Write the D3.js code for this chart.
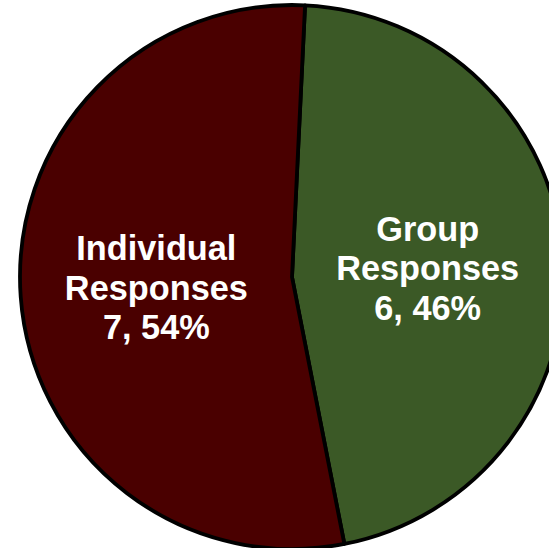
<!DOCTYPE html>
<html lang="en">
<head>
  <meta charset="utf-8">
  <script src="https://d3js.org/d3.v7.min.js"></script>
  <title>Responses</title>
  <style>
    body { margin: 0; background: #fff; }
    .slice { stroke: #000; stroke-width: 3.8px; stroke-linejoin: round; }
    .lbl {
        font-family: "Liberation Sans", Arial, sans-serif;
        font-weight: bold;
        font-size: 34.3px;
        fill: #fff;
    }
</style>
</head>
<body>
    <svg id="chart" width="549" height="548"></svg>

    <script type="text/javascript">
        // slice data, in drawing order (clockwise from the top)
        let categories = ["Group Responses", "Individual Responses"];
        let counts = [6, 7];
        let percents = ["46%", "54%"];
        let labelLines = [["Group", "Responses"], ["Individual", "Responses"]];
        let colors = ["#3b5926", "#4a0000"];

        let svg = d3.select("#chart");
        let cx = 292, cy = 277, radius = 272;

        let data = categories.map(function (c, i) {
            return { name: c, value: counts[i], pct: percents[i], lines: labelLines[i], color: colors[i] };
        });

        // pie starts just right of twelve o'clock
        let pie = d3.pie()
            .sort(null)
            .value(d => d.value)
            .startAngle(0.048)
            .endAngle(0.048 + 2 * Math.PI);

        let arc = d3.arc()
            .innerRadius(0)
            .outerRadius(radius);

        let g = svg.append("g")
            .attr("transform", "translate(" + cx + "," + cy + ")");

        g.selectAll("path")
            .data(pie(data))
            .join("path")
            .attr("class", "slice")
            .attr("d", arc)
            .style("fill", d => d.data.color);

        let lineH = 39.5;
        let labels = g.selectAll("text")
            .data(pie(data))
            .join("text")
            .attr("class", "lbl")
            .attr("text-anchor", "middle")
            .attr("transform", d => "translate(" + arc.centroid(d) + ")");

        labels.each(function (d) {
            let t = d3.select(this);
            let lines = d.data.lines.concat([d.data.value + ", " + d.data.pct]);
            lines.forEach(function (s, i) {
                t.append("tspan")
                    .attr("x", 0)
                    .attr("y", 13 + (i - 1) * lineH)
                    .text(s);
            });
        });
    </script>
</body>
</html>
